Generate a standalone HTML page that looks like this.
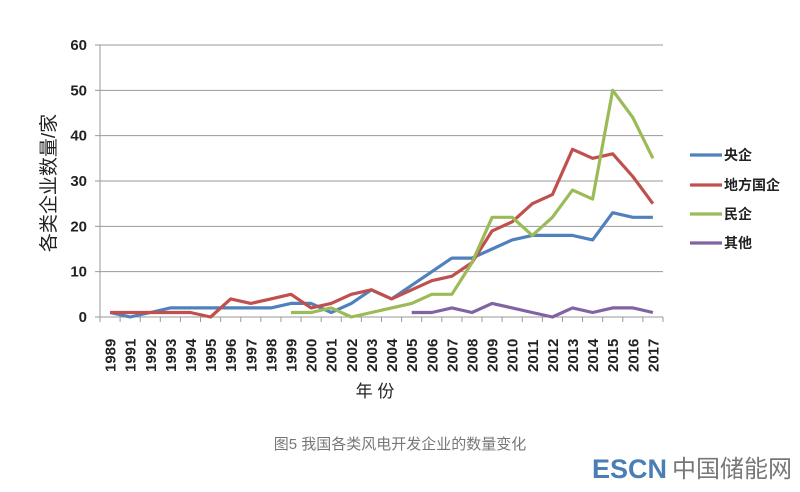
<!DOCTYPE html>
<html><head><meta charset="utf-8"><style>
body{margin:0;background:#fff;}
svg text{font-family:"Liberation Sans","Noto Sans CJK SC",sans-serif;}
</style></head><body>
<svg id="s" width="800" height="487" xmlns="http://www.w3.org/2000/svg">
<g id="grid"></g>
<line x1="100" y1="45" x2="100" y2="317" stroke="#999" stroke-width="1"/>
<line x1="95" y1="317" x2="663" y2="317" stroke="#999" stroke-width="1"/>
<g id="ticks"></g>
<g id="series" fill="none" stroke-width="3.2" stroke-linejoin="round"></g>
<text x="0" y="0" transform="translate(55,183) rotate(-90)" text-anchor="middle" font-size="19" fill="#222">各类企业数量/家</text>
<text x="375" y="397" text-anchor="middle" font-size="17" fill="#222">年 份</text>
<text x="400" y="449" text-anchor="middle" font-size="15" fill="#777">图5  我国各类风电开发企业的数量变化</text>
<g font-size="14" font-weight="bold" fill="#222">
<line x1="690" y1="155" x2="722" y2="155" stroke="#4f81bd" stroke-width="3.2"/><text x="724" y="160">央企</text>
<line x1="690" y1="185" x2="722" y2="185" stroke="#c0504d" stroke-width="3.2"/><text x="724" y="190">地方国企</text>
<line x1="690" y1="214" x2="722" y2="214" stroke="#9bbb59" stroke-width="3.2"/><text x="724" y="219">民企</text>
<line x1="690" y1="243" x2="722" y2="243" stroke="#8064a2" stroke-width="3.2"/><text x="724" y="248">其他</text>
</g>
<text x="592" y="478" font-size="27" font-weight="bold" fill="#4a7fb5" font-family="Liberation Sans,sans-serif">ESCN</text>
<text x="672" y="477" font-size="24" fill="#777">中国储能网</text>
</svg>
<script>
var ns="http://www.w3.org/2000/svg";
function el(p,t,a,txt){var e=document.createElementNS(ns,t);for(var k in a)e.setAttribute(k,a[k]);if(txt!=null)e.textContent=txt;p.appendChild(e);return e;}
var g=document.getElementById('grid'),tk=document.getElementById('ticks'),sr=document.getElementById('series');
function Y(v){return 317-v*272/60;}
for(var v=10;v<=60;v+=10){el(g,'line',{x1:100,x2:663,y1:Y(v),y2:Y(v),stroke:'#9a9a9a','stroke-width':1});}
for(var v=0;v<=60;v+=10){el(tk,'line',{x1:95,x2:100,y1:Y(v),y2:Y(v),stroke:'#999'});el(tk,'text',{x:87,y:Y(v)+5,'text-anchor':'end','font-size':15,'font-weight':'bold',fill:'#222'},v);}
var yrs=[1989,1991,1992,1993,1994,1995,1996,1997,1998,1999,2000,2001,2002,2003,2004,2005,2006,2007,2008,2009,2010,2011,2012,2013,2014,2015,2016,2017];
var w=563/28;
function X(i){return 100+w*(i+0.5);}
for(var i=0;i<=28;i++){el(tk,'line',{x1:100+w*i,x2:100+w*i,y1:317,y2:322,stroke:'#999'});}
yrs.forEach(function(y,i){el(tk,'text',{x:0,y:0,transform:'translate('+(X(i)+5.5)+',372) rotate(-90)','font-size':15,'font-weight':'bold',fill:'#222'},y);});
var S=[
['#4f81bd',0,[1,0,1,2,2,2,2,2,2,3,3,1,3,6,4,7,10,13,13,15,17,18,18,18,17,23,22,22]],
['#c0504d',0,[1,1,1,1,1,0,4,3,4,5,2,3,5,6,4,6,8,9,12,19,21,25,27,37,35,36,31,25]],
['#9bbb59',9,[1,1,2,0,1,2,3,5,5,12,22,22,18,22,28,26,50,44,35]],
['#8064a2',15,[1,1,2,1,3,2,1,0,2,1,2,2,1]]];
S.forEach(function(s){var pts=s[2].map(function(v,j){return X(s[1]+j).toFixed(1)+','+Y(v).toFixed(1);}).join(' ');el(sr,'polyline',{points:pts,stroke:s[0]});});
</script>
</body></html>
